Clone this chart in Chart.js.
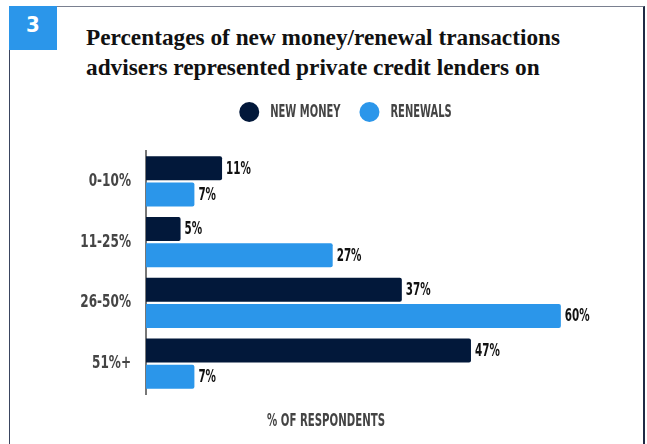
<!DOCTYPE html>
<html>
<head>
<meta charset="utf-8">
<script src="https://cdn.jsdelivr.net/npm/chart.js@4.4.1/dist/chart.umd.min.js"></script>
<style>
  html, body { margin: 0; padding: 0; background: #fff; }
  body { width: 647px; height: 444px; position: relative; overflow: hidden; }
  .frame {
    position: absolute; left: 9px; top: 6px; width: 633px; height: 460px;
    border: 1px solid #3a4560; border-top-color: #7a8090; border-right: 2px solid #1f2a44;
  }
  .badge {
    position: absolute; left: 9px; top: 6px; width: 48px; height: 44px;
    background: #2b96ea; color: #fff; text-align: center;
    font: bold 22px "DejaVu Sans", sans-serif; font-stretch: condensed; line-height: 38px;
  }
  .title {
    position: absolute; left: 86px; top: 22px; width: 560px;
    font: bold 23.3px "Liberation Serif", serif; line-height: 30px; color: #111;
    white-space: nowrap;
  }
  #wrap { position: absolute; left: 0; top: 0; width: 647px; height: 444px; }
</style>
</head>
<body>
<div class="frame"></div>
<div class="badge">3</div>
<div class="title">Percentages of new money/renewal transactions<br>advisers represented private credit lenders on</div>
<div id="wrap"><canvas id="chart"></canvas></div>
<script>
const categories = ['0-10%', '11-25%', '26-50%', '51%+'];
const newMoney = [11, 5, 37, 47];
const renewals = [7, 27, 60, 7];
const seriesNames = ['NEW MONEY', 'RENEWALS'];
const axisTitle = '% OF RESPONDENTS';

const NAVY = '#02183a';
const BLUE = '#2b96ea';
const FONT = 'bold 17px "DejaVu Sans", sans-serif';

// tall narrow headline lettering: squeeze the text horizontally
function narrowText(ctx, text, x, y, align, squeeze, color) {
  ctx.save();
  ctx.font = FONT;
  ctx.fillStyle = color;
  ctx.textBaseline = 'middle';
  ctx.textAlign = align;
  ctx.translate(x, y);
  ctx.scale(squeeze, 1);
  ctx.fillText(text, 0, 0);
  ctx.restore();
}

function narrowWidth(ctx, text, squeeze) {
  ctx.save();
  ctx.font = FONT;
  const w = ctx.measureText(text).width * squeeze;
  ctx.restore();
  return w;
}

const narrowLabels = {
  id: 'narrowLabels',
  afterDraw(chart) {
    const ctx = chart.ctx;
    const area = chart.chartArea;
    const yScale = chart.scales.y;

    // category labels
    categories.forEach((c, i) => {
      narrowText(ctx, c, area.left - 15, yScale.getPixelForTick(i), 'right', 0.71, '#454545');
    });

    // value labels at the end of each bar
    chart.data.datasets.forEach((ds, i) => {
      chart.getDatasetMeta(i).data.forEach((bar, j) => {
        narrowText(ctx, ds.data[j] + '%', bar.x + 4, bar.y + 1, 'left', 0.61, '#111');
      });
    });

    // axis title
    narrowText(ctx, axisTitle, 326, 422, 'center', 0.6, '#444');

    // legend
    const sq = 0.585, r = 10, gapIn = 11, gapOut = 19;
    const widths = seriesNames.map(n => narrowWidth(ctx, n, sq));
    const total = widths.reduce((a, w) => a + 2 * r + gapIn + w, 0) + gapOut;
    let x = 345.5 - total / 2;
    const ly = 112;
    chart.data.datasets.forEach((ds, i) => {
      ctx.beginPath();
      ctx.arc(x + r, ly, r, 0, Math.PI * 2);
      ctx.fillStyle = ds.backgroundColor;
      ctx.fill();
      x += 2 * r + gapIn;
      narrowText(ctx, seriesNames[i], x, ly + 1, 'left', sq, '#444');
      x += widths[i] + gapOut;
    });
  }
};

new Chart(document.getElementById('chart'), {
  type: 'bar',
  data: {
    labels: categories,
    datasets: [
      { label: seriesNames[0], data: newMoney, backgroundColor: NAVY, borderRadius: 2, borderSkipped: 'start' },
      { label: seriesNames[1], data: renewals, backgroundColor: BLUE, borderRadius: 2, borderSkipped: 'start' }
    ]
  },
  options: {
    indexAxis: 'y',
    responsive: true,
    maintainAspectRatio: false,
    animation: false,
    categoryPercentage: 0.86,
    barPercentage: 0.92,
    layout: { padding: { left: 0, right: 17, top: 151, bottom: 50 } },
    plugins: {
      legend: { display: false },
      tooltip: { enabled: false }
    },
    scales: {
      x: {
        min: 0,
        max: 70,
        grid: { display: false },
        border: { display: false },
        ticks: { display: false },
        afterFit(scale) { scale.height = 0; }
      },
      y: {
        grid: { display: false },
        border: { display: true, color: '#777', width: 2 },
        ticks: { display: false },
        afterFit(scale) { scale.width = 146; }
      }
    }
  },
  plugins: [narrowLabels]
});
</script>
</body>
</html>
